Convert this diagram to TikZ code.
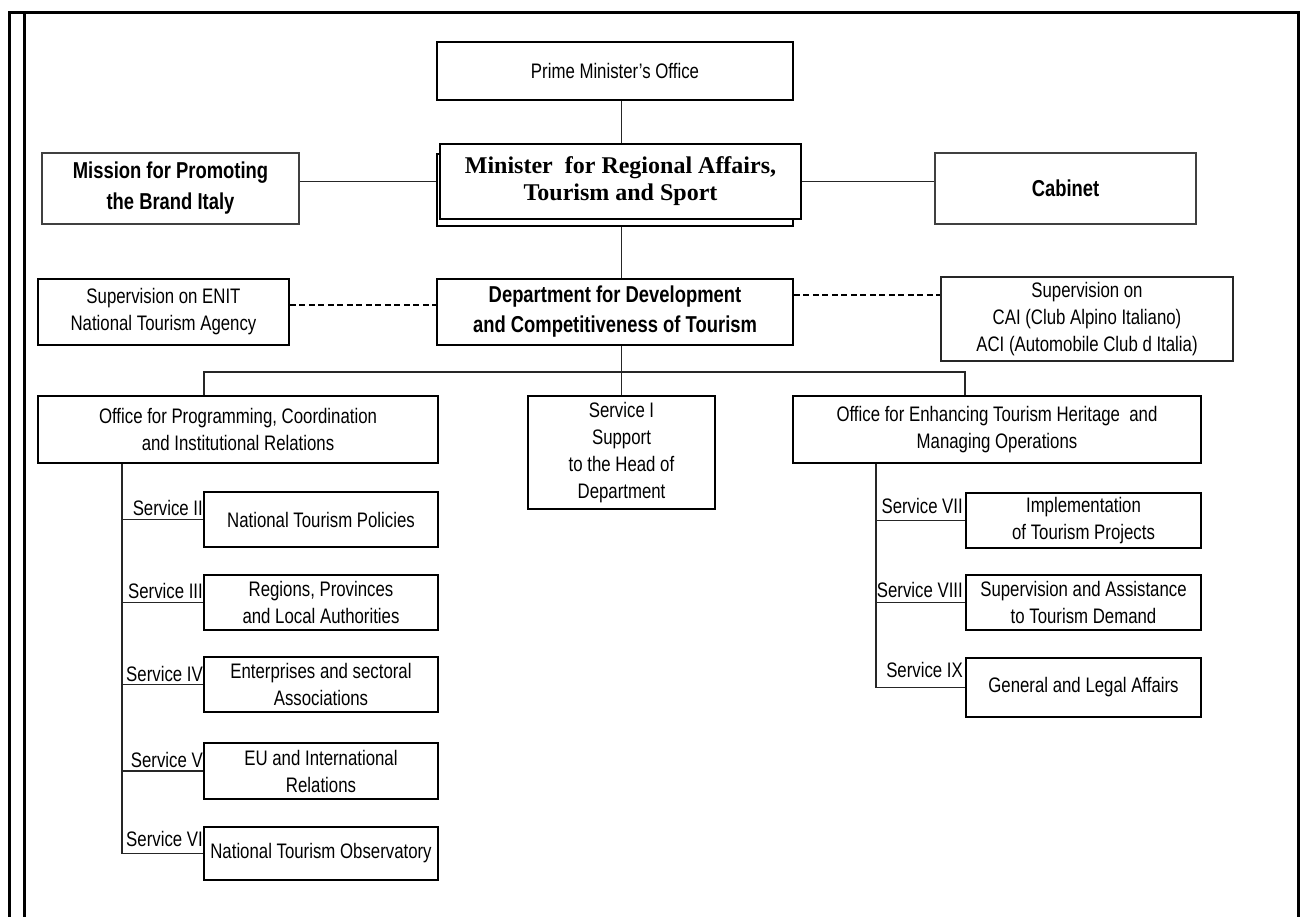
\documentclass[tikz,border=0pt]{standalone}
\usepackage{fontspec}
\setmainfont{Liberation Sans}[FakeStretch=0.8]
\newfontfamily\serifbold{Liberation Serif}
\begin{document}
\begin{tikzpicture}[x=1pt,y=-1pt,
  reg/.style={font=\fontsize{21}{27}\selectfont},
  bld/.style={font=\fontsize{23}{31}\selectfont\bfseries},
  serifb/.style={font=\fontsize{24}{27}\serifbold\selectfont\bfseries},
  box/.style={draw=black, line width=1.8pt, inner sep=0pt, align=center, fill=white},
  thinbox/.style={draw=black!75, line width=1.3pt, inner sep=0pt, align=center, fill=white},
  svbox/.style={draw=black, line width=2.5pt, inner sep=0pt, align=center, fill=white, minimum width=234, reg},
  conn/.style={draw=black!85, line width=1.3pt},
  dashconn/.style={draw=black, line width=2pt, dash pattern=on 6pt off 3.5pt},
  svlab/.style={reg, inner sep=0pt, anchor=base east},
  frameline/.style={draw=black, line width=3pt}
]
\useasboundingbox (0,0) rectangle (1303,917);
% frame
\draw[frameline] (9,917) -- (9,13) -- (1298,13) -- (1298,917);
\draw[frameline] (24,13) -- (24,917);

% top level
\node[box, reg, minimum width=356, minimum height=58] (pm) at (615,71) {Prime Minister's Office};
\node[box, minimum width=356, minimum height=72] (minb) at (615,190) {};
\node[box, serifb, minimum width=361, minimum height=75] (min) at (620.5,181.5) {Minister\ \ for Regional Affairs,\\Tourism and Sport};
\node[thinbox, bld, minimum width=257, minimum height=71] (mis) at (170.5,188.5) {Mission for Promoting\\the Brand Italy};
\node[thinbox, bld, minimum width=261, minimum height=71] (cab) at (1065.5,188.5) {Cabinet};

% second level
\node[box, reg, minimum width=251, minimum height=66] (enit) at (163.5,312) {Supervision on ENIT\\National Tourism Agency};
\node[box, font=\fontsize{23}{30}\selectfont\bfseries, minimum width=356, minimum height=66] (dept) at (615,312) {Department for Development\\and Competitiveness of Tourism};
\node[box, reg, draw=black!85, line width=1.5pt, minimum width=292, minimum height=84] (cai) at (1087,319) {Supervision on\\CAI (Club Alpino Italiano)\\ACI (Automobile Club d Italia)};

% third level
\node[box, reg, minimum width=400, minimum height=67] (op) at (238,429.5) {Office for Programming, Coordination\\and Institutional Relations};
\node[box, reg, minimum width=187, minimum height=113] (sv1) at (621.5,452.5) {Service I\\Support\\to the Head of\\Department};
\node[box, reg, minimum width=408, minimum height=67] (oe) at (997,429.5) {Office for Enhancing Tourism Heritage\ \ and\\Managing Operations};

% left services
\node[svbox, minimum height=55] (s2) at (321,519.5) {National Tourism Policies};
\node[svbox, minimum height=55] (s3) at (321,602.5) {Regions, Provinces\\and Local Authorities};
\node[svbox, minimum height=55] (s4) at (321,684.5) {Enterprises and sectoral\\Associations};
\node[svbox, minimum height=56] (s5) at (321,771) {EU and International\\Relations};
\node[svbox, minimum height=53] (s6) at (321,853.5) {National Tourism Observatory};

% right services
\node[svbox, minimum width=235, minimum height=55] (s7) at (1083.5,520.5) {Implementation\\of Tourism Projects};
\node[svbox, minimum width=235, minimum height=55] (s8) at (1083.5,602.5) {Supervision and Assistance\\to Tourism Demand};
\node[svbox, minimum width=235, minimum height=59] (s9) at (1083.5,687.5) {General and Legal Affairs};

% service labels
\node[svlab] (l2) at (203,515) {Service II};
\node[svlab] (l3) at (203,598) {Service III};
\node[svlab] (l4) at (203,681) {Service IV};
\node[svlab] (l5) at (203,767) {Service V};
\node[svlab] (l6) at (203,846) {Service VI};
\node[svlab] (l7) at (963,513) {Service VII};
\node[svlab] (l8) at (963,597) {Service VIII};
\node[svlab] (l9) at (963,677) {Service IX};

% coordinates
\coordinate (lsp) at (122,463);
\coordinate (rsp) at (876,463);
\coordinate (dl) at (204,372);
\coordinate (dr) at (965,372);
\coordinate (dashL) at ([yshift=7pt]dept.west);
\coordinate (dashR) at ([yshift=17pt]dept.east);

% connectors
\draw[conn] (pm.south -| sv1.north) -- (min.north -| sv1.north);
\draw[conn] (minb.south -| sv1.north) -- (dept.north -| sv1.north);
\draw[conn] (dept.south -| sv1.north) -- (sv1.north);
\draw[conn] (mis.east |- min.west) -- (minb.west |- min.west);
\draw[conn] (min.east) -- (cab.west |- min.east);
\draw[dashconn] (enit.east |- dashL) -- (dashL);
\draw[dashconn] (dashR) -- (cai.west |- dashR);
\draw[conn] (op.north -| dl) -- (dl) -- (dr) -- (oe.north -| dr);

% left tree
\draw[conn] (op.south -| lsp) -- (s6.west -| lsp) -- (s6.west);
\draw[conn] (s2.west -| lsp) -- (s2.west);
\draw[conn] (s3.west -| lsp) -- (s3.west);
\draw[conn] (s4.west -| lsp) -- (s4.west);
\draw[conn] (s5.west -| lsp) -- (s5.west);

% right tree
\draw[conn] (oe.south -| rsp) -- (s9.west -| rsp) -- (s9.west);
\draw[conn] (s7.west -| rsp) -- (s7.west);
\draw[conn] (s8.west -| rsp) -- (s8.west);
\end{tikzpicture}
\end{document}
